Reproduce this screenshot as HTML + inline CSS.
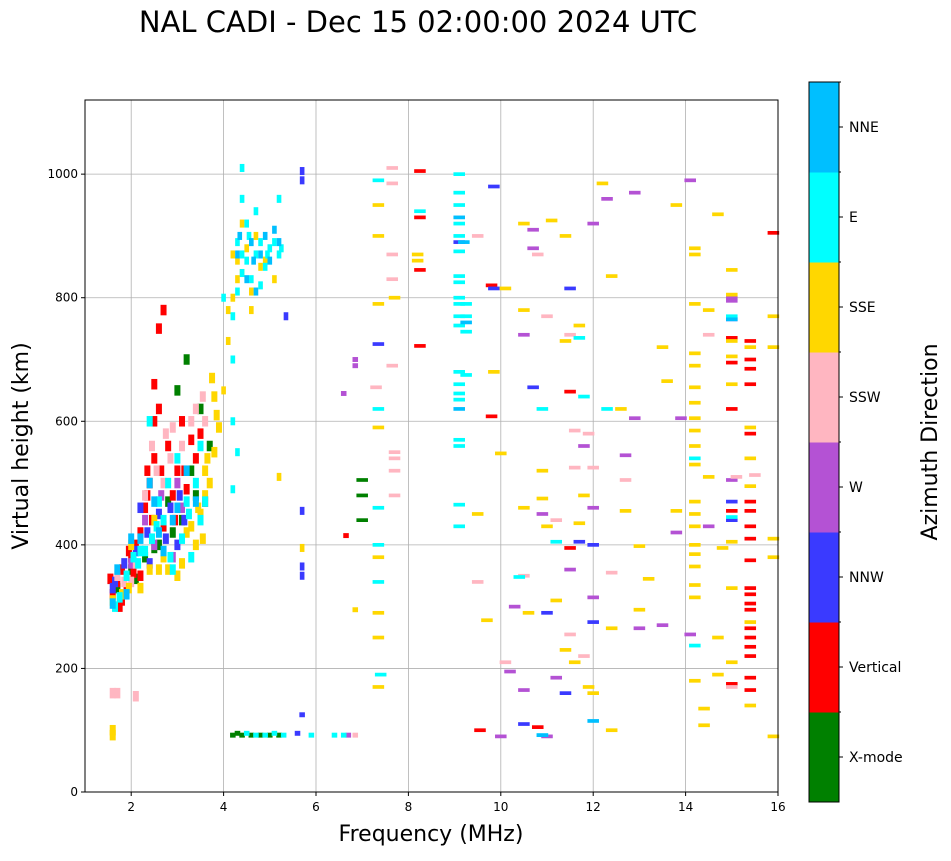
<!DOCTYPE html>
<html><head><meta charset="utf-8"><style>
body{margin:0;background:#fff;}
svg text{font-family:"DejaVu Sans","Liberation Sans",sans-serif;}
</style></head><body>
<svg id="chart" width="951" height="856" xmlns="http://www.w3.org/2000/svg">
<text x="418" y="32" font-size="29" text-anchor="middle">NAL CADI - Dec 15 02:00:00 2024 UTC</text>
<g id="grid"></g>
<g id="marks"></g>
<rect x="85" y="100" width="693" height="692" fill="none" stroke="#000" stroke-width="1"/>
<g id="axes"></g>
<text x="431" y="841" font-size="22" text-anchor="middle">Frequency (MHz)</text>
<text transform="translate(28,446) rotate(-90)" font-size="22" text-anchor="middle">Virtual height (km)</text>
<g id="cbar"></g>
<text transform="translate(937,442) rotate(-90)" font-size="22" text-anchor="middle">Azimuth Direction</text>
</svg>
<script>
const categories=["X-mode","Vertical","NNW","W","SSW","SSE","E","NNE"];
const colors=["#008000","#ff0000","#3a3aff","#b452d4","#ffb6c1","#ffd700","#00ffff","#00bfff"];
const xTicks=[2,4,6,8,10,12,14,16];
const yTicks=[0,200,400,600,800,1000];
const xmode=[[1.7,330],[2.3,380],[2.6,400],[2.9,420],[3.1,440],[3.3,520],[3.5,620],[3.7,560],[2.0,360],[3.0,650],[3.2,700],[2.8,470],[2.1,345],[2.5,395],[3.4,480],[4.2,92],[4.4,92],[4.6,92],[4.8,92],[5.0,92],[5.2,92],[4.3,95],[7.0,505],[7.0,440],[7.0,480]];
const vertical=[[1.6,320],[1.7,340],[1.8,360],[1.9,330],[2.0,380],[2.1,400],[2.2,420],[2.3,460],[2.4,500],[2.5,540],[2.5,600],[2.6,620],[2.8,560],[2.9,480],[3.0,520],[3.1,600],[3.3,570],[3.4,540],[3.5,580],[2.5,660],[2.7,780],[2.6,750],[1.75,300],[2.2,350],[2.7,430],[3.2,490],[3.6,470],[1.55,345],[1.8,310],[2.05,355],[2.35,480],[2.45,440],[2.65,520],[2.95,440],[3.15,520],[2.35,520],[1.95,390],[6.65,415],[8.25,1005],[8.25,930],[8.25,845],[8.25,722],[9.8,820],[9.8,608],[9.55,100],[10.8,105],[11.5,648],[11.5,395],[15.0,175],[15.0,620],[15.0,695],[15.0,735],[15.4,730],[15.4,700],[15.4,685],[15.4,660],[15.4,580],[15.4,470],[15.4,455],[15.4,430],[15.4,410],[15.4,375],[15.4,330],[15.4,320],[15.4,305],[15.4,295],[15.4,265],[15.4,250],[15.4,235],[15.4,220],[15.4,185],[15.4,165],[15.9,905],[15.0,455]];
const nnw=[[1.65,340],[1.85,370],[2.1,390],[2.35,420],[2.6,450],[2.85,460],[3.0,400],[3.15,440],[2.4,370],[1.6,330],[2.2,460],[2.75,410],[3.05,480],[5.7,1005],[5.7,990],[5.7,455],[5.7,365],[5.7,350],[5.7,125],[5.6,95],[9.1,890],[9.85,980],[9.85,815],[11.0,290],[10.5,110],[11.4,160],[11.5,815],[11.7,405],[12.0,400],[12.0,275],[15.0,765],[15.0,470],[15.0,440],[7.35,725],[5.35,770],[10.7,655]];
const west=[[2.5,400],[2.9,380],[3.1,460],[2.3,440],[2.0,370],[2.65,480],[3.0,500],[6.6,645],[6.85,700],[6.85,690],[10.5,740],[10.7,910],[10.7,880],[10.3,300],[10.2,195],[10.5,165],[11.2,185],[11.0,90],[10.0,90],[10.9,450],[12.3,960],[12.0,920],[12.0,460],[12.7,545],[12.9,970],[12.9,605],[13.0,265],[13.5,270],[13.8,420],[14.1,990],[14.1,255],[13.9,605],[15.0,505],[15.0,800],[15.0,795],[14.5,430],[11.8,560],[11.5,360],[12.0,315],[6.7,92]];
const ssw=[[1.7,350],[2.0,340],[2.3,480],[2.55,520],[2.7,500],[2.85,540],[3.1,560],[3.4,620],[3.6,600],[2.9,590],[2.1,370],[1.85,340],[2.45,560],[2.75,580],[3.3,600],[3.55,640],[1.6,160],[1.7,160],[2.1,155],[7.65,1010],[7.65,985],[7.65,870],[7.65,830],[7.65,690],[7.7,550],[7.7,540],[7.7,480],[7.7,520],[7.3,655],[6.85,92],[9.5,900],[9.5,340],[10.1,210],[10.5,350],[11.0,770],[11.5,740],[11.6,585],[11.6,525],[11.5,255],[11.8,220],[11.9,580],[12.0,525],[12.4,355],[12.7,505],[14.5,740],[15.0,170],[15.1,510],[15.5,513],[11.2,440],[10.8,870]];
const sse=[[1.6,310],[1.8,320],[2.0,400],[2.2,330],[2.4,360],[2.5,440],[2.7,380],[2.8,360],[3.0,350],[3.2,420],[3.3,430],[3.5,450],[3.6,480],[3.7,500],[3.8,550],[3.9,590],[3.6,520],[3.4,400],[3.75,670],[3.8,640],[4.0,650],[3.1,370],[3.45,460],[3.55,410],[3.65,540],[3.85,610],[2.6,360],[1.95,330],[4.1,730],[4.2,800],[4.4,840],[4.5,880],[4.3,860],[4.7,900],[4.9,860],[5.1,830],[4.6,810],[4.6,780],[4.2,870],[4.4,920],[4.3,830],[4.8,850],[4.1,780],[1.6,92],[1.6,100],[5.2,510],[5.7,395],[6.85,295],[7.35,790],[7.35,950],[7.35,900],[7.35,590],[7.35,380],[7.35,290],[7.35,170],[7.35,250],[8.2,860],[8.2,870],[7.7,800],[9.5,450],[9.85,680],[9.7,278],[10.1,815],[10.0,548],[10.5,920],[10.5,780],[10.5,460],[10.6,290],[10.9,520],[10.9,475],[11.0,430],[11.2,310],[11.1,925],[11.4,730],[11.4,900],[11.7,755],[11.7,435],[11.8,480],[11.4,230],[11.6,210],[11.9,170],[12.0,160],[12.2,985],[12.4,835],[12.4,265],[12.4,100],[12.6,620],[12.7,455],[13.0,398],[13.0,295],[13.2,345],[13.5,720],[13.8,950],[13.6,665],[13.8,455],[14.2,880],[14.2,870],[14.2,790],[14.2,710],[14.2,690],[14.2,655],[14.2,630],[14.2,605],[14.2,585],[14.2,560],[14.2,530],[14.2,470],[14.2,450],[14.2,430],[14.2,400],[14.2,385],[14.2,365],[14.2,335],[14.2,315],[14.2,180],[14.4,135],[14.4,108],[14.5,510],[14.5,780],[14.7,935],[14.7,250],[14.7,190],[15.0,845],[15.0,805],[15.0,730],[15.0,705],[15.0,660],[15.0,405],[15.0,330],[15.0,210],[15.4,720],[15.4,590],[15.4,275],[15.4,140],[15.9,770],[15.9,720],[15.9,410],[15.9,380],[15.9,90],[14.8,395],[15.4,540],[15.4,495]];
const east=[[1.65,300],[1.9,350],[2.15,370],[2.3,390],[2.45,410],[2.7,440],[2.9,360],[3.1,410],[3.3,380],[3.5,440],[2.6,470],[2.8,500],[3.0,540],[3.2,470],[3.6,470],[2.4,600],[3.5,560],[1.75,315],[2.05,380],[2.55,430],[2.85,380],[3.25,450],[3.4,500],[2.2,390],[4.2,770],[4.3,810],[4.4,840],[4.5,860],[4.6,830],[4.7,870],[4.8,890],[4.9,850],[5.0,880],[5.1,890],[5.2,870],[4.3,890],[4.5,920],[4.7,940],[4.4,960],[4.8,820],[4.0,800],[4.2,700],[4.2,600],[4.3,550],[4.2,490],[4.55,900],[4.95,870],[5.25,880],[4.4,870],[4.5,95],[4.7,92],[4.9,92],[5.1,95],[5.3,92],[5.9,92],[6.4,92],[6.6,92],[7.4,190],[7.35,990],[7.35,340],[7.35,460],[7.35,400],[7.35,620],[8.25,940],[9.1,1000],[9.1,970],[9.1,950],[9.1,920],[9.1,900],[9.1,875],[9.1,835],[9.1,825],[9.1,800],[9.1,790],[9.1,770],[9.1,755],[9.1,680],[9.1,660],[9.1,645],[9.1,635],[9.1,570],[9.1,560],[9.1,465],[9.1,430],[9.25,770],[9.25,745],[9.25,790],[9.25,675],[10.4,348],[10.9,620],[11.2,405],[11.7,735],[11.8,640],[12.3,620],[14.2,540],[14.2,237],[15.0,445],[15.0,770],[10.9,92],[5.2,960],[4.4,1010]];
const nne=[[1.7,360],[1.9,320],[2.2,410],[2.5,470],[2.7,390],[2.9,440],[3.2,520],[3.4,470],[2.4,500],[1.6,305],[2.0,410],[2.6,420],[3.0,460],[4.3,870],[4.6,890],[4.8,870],[5.0,860],[5.2,890],[4.5,830],[4.7,810],[4.9,900],[5.1,910],[4.35,900],[4.65,860],[9.2,890],[9.1,930],[9.1,620],[9.25,760],[10.9,92],[12.0,115],[15.0,765]];
const series=[xmode,vertical,nnw,west,ssw,sse,east,nne];

const NS="http://www.w3.org/2000/svg";
const X0=85,X1=778,Y0=792,Y1=100,FMIN=1,FMAX=16,HMIN=0,HMAX=1120;
function xs(f){return X0+(f-FMIN)/(FMAX-FMIN)*(X1-X0);}
function ys(h){return Y0-(h-HMIN)/(HMAX-HMIN)*(Y0-Y1);}
function mk(t,a,p){const e=document.createElementNS(NS,t);for(const k in a)e.setAttribute(k,a[k]);p.appendChild(e);return e;}
const grid=document.getElementById('grid'),axes=document.getElementById('axes'),marks=document.getElementById('marks');
xTicks.forEach(v=>{const x=xs(v);
 const g=mk('line',{x1:x,x2:x,y1:Y1,y2:Y0,stroke:'#b0b0b0','stroke-width':0.8},grid);
 
 mk('line',{x1:x,x2:x,y1:Y0,y2:Y0+4,stroke:'#000'},axes);
 const t=mk('text',{x:x,y:Y0+19,'font-size':12,'text-anchor':'middle'},axes);t.textContent=v;
 });
yTicks.forEach(v=>{const y=ys(v);
 const g=mk('line',{x1:X0,x2:X1,y1:y,y2:y,stroke:'#b0b0b0','stroke-width':0.8},grid);
 
 mk('line',{x1:X0-4,x2:X0,y1:y,y2:y,stroke:'#000'},axes);
 const t=mk('text',{x:X0-7,y:y+4,'font-size':12,'text-anchor':'end'},axes);t.textContent=v;
 });
series.forEach((pts,ci)=>{pts.forEach(p=>{const f=p[0],h=p[1];
 let w,hh;
 if(f<4){w=0.13;hh=17;}else if(f<6&&h>150){w=0.1;hh=13;}else if(f<7){w=0.12;hh=8;}else{w=0.25;hh=6;}
 const r=mk('rect',{x:xs(f-w/2),y:ys(h+hh/2),width:xs(f+w/2)-xs(f-w/2),height:ys(h-hh/2)-ys(h+hh/2),fill:colors[ci]},marks);
 
 });});
const cb=document.getElementById('cbar');const CX=809,CW=30,CT=82,CB=802,seg=(CB-CT)/8;
categories.forEach((c,i)=>{const y=CB-(i+1)*seg;
 const r=mk('rect',{x:CX,y:y,width:CW,height:seg+0.5,fill:colors[i]},cb);
 
 mk('line',{x1:CX+CW,x2:CX+CW+4,y1:y+seg/2,y2:y+seg/2,stroke:'#000'},cb);
 mk('line',{x1:CX+CW,x2:CX+CW+2,y1:y,y2:y,stroke:'#000'},cb);
 const t=mk('text',{x:CX+CW+10,y:y+seg/2+5,'font-size':14},cb);t.textContent=c;
 });
mk('rect',{x:CX,y:CT,width:CW,height:CB-CT,fill:'none',stroke:'#000'},cb);
</script>
</body></html>
